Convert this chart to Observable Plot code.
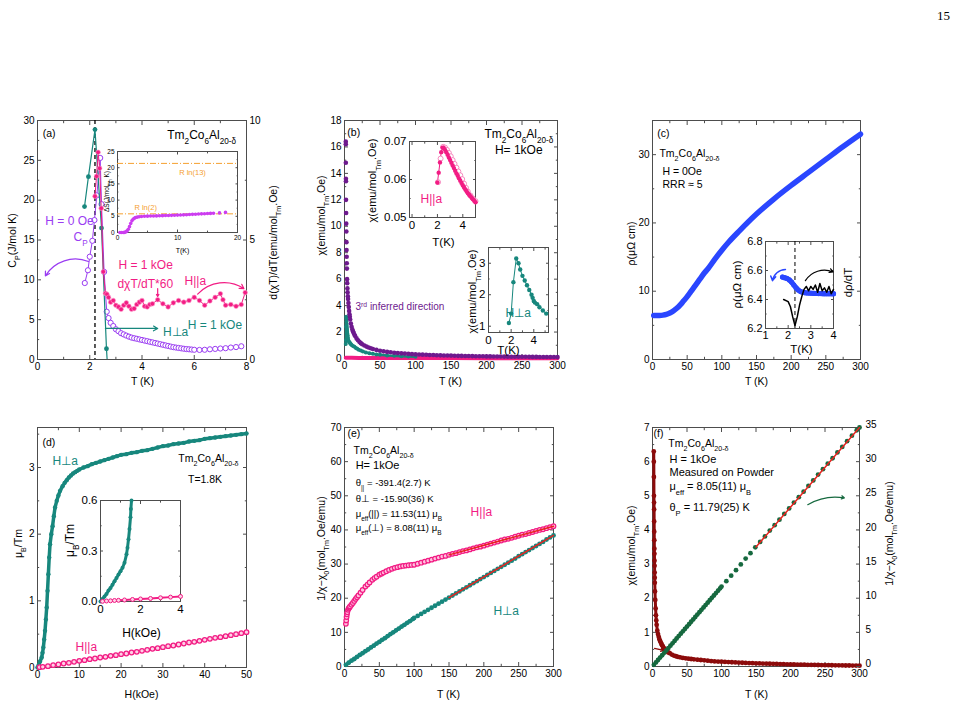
<!DOCTYPE html>
<html><head><meta charset="utf-8">
<script src="https://cdn.jsdelivr.net/npm/d3@7"></script>
<script src="https://cdn.jsdelivr.net/npm/@observablehq/plot@0.6"></script>
<style>
html,body{margin:0;padding:0;background:#fff;}
#fig{position:relative;width:963px;height:706px;overflow:hidden;background:#fff;font-family:'Liberation Sans',Arial,sans-serif;}
#pg{position:absolute;left:937px;top:8px;font:13px 'Liberation Serif','DejaVu Serif',serif;}
</style></head><body><div id="fig"><div id="pg">15</div></div>
<script>
// ---------- DATA ----------
// (a) specific heat and d(chiT)/dT
const aCpH0 = [[1.81,9.6],[1.93,11.2],[2.0,12.9],[2.1,14.9],[2.18,17.5],[2.27,20.6],[2.4,25.3],[2.45,19.5],[2.55,11.0],[2.65,6.0],[2.72,5.2],[2.8,4.6],[2.9,4.2],[3.0,3.8],[3.1,3.55],[3.2,3.3],[3.3,3.15],[3.4,3.0],[3.5,2.87],[3.6,2.75],[3.7,2.67],[3.8,2.6],[3.9,2.52],[4.0,2.45],[4.1,2.37],[4.2,2.3],[4.3,2.22],[4.4,2.15],[4.5,2.07],[4.6,2.0],[4.7,1.92],[4.8,1.85],[4.9,1.77],[5.0,1.7],[5.1,1.62],[5.2,1.55],[5.3,1.5],[5.4,1.45],[5.5,1.4],[5.6,1.35],[5.7,1.31],[5.8,1.28],[5.9,1.25],[6.0,1.22],[6.2,1.2],[6.4,1.22],[6.6,1.28],[6.8,1.33],[7.0,1.38],[7.2,1.42],[7.4,1.5],[7.6,1.56],[7.8,1.66]];
const aPerp = [[1.8,6.4],[1.95,7.65],[2.2,9.62],[2.45,5.5],[2.64,0.45],[2.75,-1.5]];
const aDchiPar = [[2.2,6.83],[2.26,7.67],[2.32,8.67],[2.38,8.0],[2.44,6.33],[2.52,3.67],[2.6,2.77],[2.66,2.73],[2.72,2.6],[2.8,2.4],[2.9,2.47],[3.0,2.27],[3.1,2.2],[3.2,2.1],[3.3,2.27],[3.4,2.37],[3.5,2.23],[3.6,2.1],[3.7,2.13],[3.8,2.3],[3.9,2.4],[4.0,2.47],[4.1,2.23],[4.2,2.2],[4.3,2.3],[4.4,2.33],[4.6,2.5],[4.8,2.33],[5.0,2.2],[5.2,2.37],[5.4,2.47],[5.6,2.4],[5.8,2.47],[6.0,2.6],[6.2,2.47],[6.4,2.27],[6.6,2.45],[6.8,2.6],[7.0,2.75],[7.1,2.5],[7.2,2.27],[7.4,2.3],[7.6,2.23],[7.8,2.3],[7.95,2.8]];
const aEntropy = [[0.4,0],[0.7,0],[1.0,0],[1.2,0.05],[1.4,0.2],[1.6,0.5],[1.8,1.0],[2.0,1.8],[2.2,2.8],[2.4,3.6],[2.6,4.1],[2.8,4.4],[3.0,4.6],[3.3,4.75],[3.6,4.85],[4.0,4.95],[4.5,5.0],[5,5.05],[5.5,5.08],[6,5.1],[6.5,5.13],[7,5.16],[7.5,5.2],[8,5.23],[8.5,5.26],[9,5.3],[9.5,5.33],[10,5.37],[10.5,5.4],[11,5.45],[11.5,5.5],[12,5.55],[12.5,5.6],[13,5.65],[13.5,5.7],[14,5.75],[14.5,5.8],[15,5.85],[15.5,5.9],[16,5.95],[17,6.05],[18,6.2]];
const aRln = [21.33, 5.76];
// (b) susceptibility
const bThird = [[1.8,16.4],[1.85,16.2],[1.9,14.8],[2.0,13.6],[2.05,13.4],[2.15,12.0],[2.3,11.0],[2.45,10.2],[2.6,9.6],[2.75,8.8],[2.9,8.2],[3.05,7.7],[3.2,7.2],[3.4,6.8],[3.6,6.0],[3.8,5.7],[4.1,5.3],[4.4,5.0],[4.7,4.7],[5.0,4.5],[5.5,4.2],[6,3.9],[6.5,3.6],[7,3.35],[7.5,3.15],[8,2.95],[9,2.65],[10,2.4],[11,2.2],[12,2.05],[13,1.92],[14,1.8],[15,1.7],[17,1.52],[19,1.38],[21,1.26],[23,1.16],[25,1.08],[28,0.98],[31,0.9],[34,0.83],[37,0.77],[40,0.72],[45,0.65],[50,0.59],[55,0.54],[60,0.5],[65,0.47],[70,0.44],[75,0.41],[80,0.39],[85,0.37],[90,0.35],[95,0.33],[100,0.31],[105,0.3],[110,0.29],[115,0.28],[120,0.27],[125,0.26],[130,0.25],[135,0.24],[140,0.23],[145,0.225],[150,0.22],[155,0.21],[160,0.2],[165,0.195],[170,0.19],[175,0.185],[180,0.18],[185,0.175],[190,0.17],[195,0.165],[200,0.16],[205,0.158],[210,0.155],[215,0.152],[220,0.15],[225,0.145],[230,0.14],[235,0.138],[240,0.135],[245,0.132],[250,0.13],[255,0.128],[260,0.125],[265,0.122],[270,0.12],[275,0.118],[280,0.115],[285,0.112],[290,0.11],[295,0.108],[300,0.105]];
const bPerpLow = [[1.8,1.1],[2.0,1.4],[2.2,2.4],[2.45,3.15],[2.65,3.0],[2.8,2.8],[3.0,2.6],[3.2,2.45],[3.4,2.3],[3.6,2.15],[3.8,2.0],[3.9,1.9],[4.0,1.8],[4.1,1.75],[4.3,1.7],[4.5,1.6],[4.8,1.5],[5.1,1.4]];
const bPerpHigh = [[6,1.3],[7,1.22],[8,1.15],[9,1.08],[10,1.03],[12,0.95],[14,0.88],[16,0.8],[18,0.73],[20,0.67],[23,0.6],[26,0.53],[30,0.46],[35,0.4],[40,0.35],[45,0.31],[50,0.28],[60,0.23],[70,0.2],[80,0.17],[90,0.15],[100,0.13]];
const bPar = [[1.8,0.06],[5,0.055],[10,0.05],[20,0.045],[50,0.04],[100,0.035],[150,0.03],[200,0.028],[250,0.026],[300,0.025]];
const bParIn = [[2.0,0.0592],[2.1,0.0618],[2.2,0.0645],[2.3,0.0672],[2.4,0.0684],[2.5,0.0683],[2.6,0.0678],[2.7,0.0672],[2.8,0.0665],[2.9,0.0658],[3.0,0.0651],[3.1,0.0644],[3.2,0.0637],[3.3,0.063],[3.4,0.0623],[3.5,0.0616],[3.6,0.061],[3.7,0.0603],[3.8,0.0597],[3.9,0.0591],[4.0,0.0585],[4.1,0.0579],[4.2,0.0574],[4.3,0.0569],[4.4,0.0564],[4.5,0.056],[4.6,0.0556],[4.7,0.0552],[4.8,0.0548],[4.9,0.0544],[5.0,0.054]];
const bParInOpen = [[2.05,0.0593],[2.25,0.0655],[2.45,0.0686],[2.6,0.0684],[2.75,0.0678],[2.9,0.067],[3.05,0.0661],[3.2,0.0651],[3.35,0.0641],[3.5,0.0631],[3.65,0.0621],[3.8,0.0611],[3.95,0.0601],[4.1,0.0589],[4.25,0.0578],[4.4,0.0568],[4.6,0.0558],[4.8,0.055],[5.0,0.0543]];
// (c) resistivity
const cRho = [[1.8,6.45],[5,6.45],[10,6.46],[15,6.5],[20,6.6],[25,6.8],[30,7.1],[35,7.5],[40,8.0],[45,8.6],[50,9.2],[55,9.9],[60,10.6],[65,11.3],[70,12.0],[75,12.7],[80,13.3],[90,14.7],[100,16.0],[110,17.2],[125,18.8],[150,21.3],[175,23.5],[200,25.5],[225,27.4],[250,29.3],[275,31.2],[300,33.0]];
const cRhoIn = [[1.75,6.555],[1.85,6.55],[1.95,6.545],[2.05,6.535],[2.15,6.52],[2.25,6.5],[2.35,6.48],[2.45,6.465],[2.55,6.455],[2.65,6.45],[2.75,6.447],[2.85,6.445],[2.95,6.444],[3.05,6.443],[3.15,6.442],[3.25,6.442],[3.35,6.441],[3.45,6.441],[3.55,6.44],[3.65,6.44],[3.75,6.44],[3.85,6.44],[3.95,6.44],[4.0,6.44]];
const cDrho = [[1.8,6.4],[2.0,6.385],[2.1,6.35],[2.2,6.28],[2.3,6.22],[2.4,6.28],[2.5,6.36],[2.6,6.42],[2.7,6.47],[2.8,6.49],[2.9,6.46],[3.0,6.49],[3.1,6.47],[3.2,6.5],[3.3,6.45],[3.4,6.51],[3.5,6.46],[3.6,6.48],[3.7,6.45],[3.8,6.49],[3.9,6.44],[4.0,6.47]];
// (d) magnetization
const dPerp = [[0,0],[0.3,0.04],[0.6,0.09],[1.0,0.15],[1.2,0.22],[1.4,0.3],[1.6,0.42],[1.8,0.55],[2.0,0.72],[2.2,0.9],[2.4,1.15],[2.6,1.4],[2.8,1.65],[3.0,1.85],[3.3,2.0],[3.6,2.12],[3.9,2.27],[4.2,2.4],[4.6,2.5],[5.0,2.58],[5.4,2.65],[6.0,2.72],[6.5,2.77],[7.0,2.81],[7.5,2.85],[8.0,2.88],[8.5,2.91],[9.0,2.93],[9.5,2.95],[10,2.97],[11,3.0],[12,3.02],[13,3.05],[14,3.07],[15,3.09],[16,3.11],[17,3.13],[18,3.15],[19,3.17],[20,3.19],[21.25,3.2],[22.5,3.22],[23.75,3.23],[25,3.25],[26.25,3.26],[27.5,3.28],[28.75,3.3],[30,3.32],[31.25,3.33],[32.5,3.35],[33.75,3.36],[35,3.37],[36.25,3.39],[37.5,3.4],[38.75,3.41],[40,3.43],[41.25,3.44],[42.5,3.45],[43.75,3.46],[45,3.47],[46.25,3.48],[47.5,3.49],[48.75,3.5],[50,3.51]];
const dPar = [[0.5,0.005],[1.25,0.01],[2.5,0.02],[3.75,0.035],[5,0.045],[6.25,0.06],[7.5,0.07],[8.75,0.085],[10,0.1],[11.25,0.11],[12.5,0.125],[13.75,0.135],[15,0.15],[16.25,0.16],[17.5,0.175],[18.75,0.185],[20,0.2],[21.25,0.21],[22.5,0.225],[23.75,0.235],[25,0.25],[26.25,0.265],[27.5,0.28],[28.75,0.29],[30,0.305],[31.25,0.32],[32.5,0.33],[33.75,0.345],[35,0.36],[36.25,0.375],[37.5,0.385],[38.75,0.4],[40,0.415],[41.25,0.43],[42.5,0.445],[43.75,0.455],[45,0.47],[46.25,0.485],[47.5,0.5],[48.75,0.515],[50,0.53]];
const dPerpIn = [[0,0],[0.1,0.015],[0.2,0.03],[0.3,0.045],[0.4,0.065],[0.5,0.08],[0.6,0.1],[0.7,0.12],[0.8,0.14],[0.9,0.16],[1.0,0.18],[1.1,0.2],[1.2,0.23],[1.3,0.28],[1.35,0.32],[1.4,0.37],[1.45,0.43],[1.5,0.5],[1.52,0.55],[1.55,0.6]];
const dParIn = [[0.1,0.001],[0.3,0.003],[0.5,0.004],[0.7,0.006],[0.9,0.007],[1.2,0.009],[1.6,0.012],[2.0,0.015],[2.5,0.018],[3.0,0.022],[3.5,0.026],[4.0,0.03]];
// (e) inverse susceptibility
const ePar = [[2,12.5],[2.5,13.5],[3,14.5],[3.5,15.3],[4,15.9],[5,16.6],[6,17.0],[7,17.3],[8,17.6],[10,18.1],[12,18.6],[14,19.2],[16,19.8],[18,20.3],[20,20.8],[23,21.6],[26,22.4],[30,23.4],[33,24.0],[36,24.6],[40,25.4],[43,25.9],[46,26.3],[50,26.9],[53,27.2],[56,27.5],[60,27.9],[64,28.3],[68,28.6],[72,28.9],[76,29.1],[80,29.3],[84,29.45],[88,29.55],[92,29.65],[96,29.75],[100,29.8],[105,30.1],[110,30.4],[115,30.7],[120,31.0],[125,31.3],[130,31.6],[135,31.9],[140,32.2],[145,32.4],[150,32.7],[155,33.0],[160,33.2],[165,33.5],[170,33.8],[175,34.0],[180,34.3],[185,34.6],[190,34.9],[195,35.1],[200,35.4],[205,35.7],[210,36.0],[215,36.3],[220,36.6],[225,36.9],[230,37.2],[235,37.4],[240,37.7],[245,38.0],[250,38.3],[255,38.6],[260,38.8],[265,39.1],[270,39.4],[275,39.7],[280,40.0],[285,40.2],[290,40.5],[295,40.8],[300,41.1]];
const ePerp = [[2,0.5],[6,1.1],[10,1.7],[14,2.2],[18,2.8],[22,3.4],[26,3.9],[30,4.5],[34,5.0],[38,5.6],[42,6.1],[46,6.7],[50,7.2],[54,7.8],[58,8.3],[62,8.9],[66,9.5],[70,10.0],[74,10.6],[78,11.1],[82,11.7],[86,12.2],[90,12.8],[94,13.3],[98,13.9],[100,14.2],[105,14.8],[110,15.4],[115,16.0],[120,16.6],[125,17.2],[130,17.8],[135,18.4],[140,19.0],[145,19.6],[150,20.2],[155,20.8],[160,21.4],[165,22.0],[170,22.6],[175,23.2],[180,23.8],[185,24.4],[190,25.0],[195,25.6],[200,26.2],[205,26.8],[210,27.4],[215,28.0],[220,28.6],[225,29.2],[230,29.8],[235,30.4],[240,31.0],[245,31.6],[250,32.3],[255,32.9],[260,33.5],[265,34.1],[270,34.7],[275,35.3],[280,35.9],[285,36.5],[290,37.2],[295,37.8],[300,38.4]];
const eFitPar = [[150,32.7],[300,41.1]];
const eFitPerp = [[150,20.2],[300,38.4]];
// (f) powder
const fChi = [[1.8,6.3],[1.9,6.0],[2.0,5.55],[2.1,5.0],[2.2,4.8],[2.3,4.6],[2.4,4.25],[2.5,3.95],[2.6,3.7],[2.7,3.45],[2.8,3.3],[2.9,3.1],[3.0,2.95],[3.1,2.75],[3.2,2.6],[3.3,2.45],[3.6,2.2],[4,1.95],[4.5,1.7],[5,1.5],[5.5,1.35],[6,1.22],[7,1.05],[8,0.95],[9,0.87],[10,0.8],[11,0.75],[12,0.7],[13,0.66],[14,0.62],[15,0.59],[17,0.53],[19,0.48],[21,0.44],[23,0.41],[25,0.39],[28,0.35],[31,0.32],[34,0.3],[37,0.28],[40,0.27],[44,0.25],[48,0.24],[52,0.23],[56,0.22],[60,0.21],[65,0.2],[70,0.19],[75,0.18],[80,0.17],[85,0.16],[90,0.15],[95,0.145],[100,0.14],[105,0.135],[110,0.13],[115,0.125],[120,0.12],[125,0.115],[130,0.11],[135,0.105],[140,0.1],[145,0.097],[150,0.094],[155,0.09],[160,0.087],[165,0.083],[170,0.08],[175,0.077],[180,0.074],[185,0.07],[190,0.067],[195,0.064],[200,0.06],[205,0.058],[210,0.056],[215,0.054],[220,0.052],[225,0.05],[230,0.048],[235,0.046],[240,0.044],[245,0.042],[250,0.04],[255,0.038],[260,0.036],[265,0.035],[270,0.033],[275,0.032],[280,0.03],[285,0.029],[290,0.027],[295,0.026],[300,0.025]];
const fInv = [[2,0.25],[5,0.6],[8,0.95],[11,1.3],[14,1.65],[17,2.0],[20,2.35],[23,2.7],[26,3.05],[29,3.4],[32,3.75],[35,4.1],[38,4.45],[41,4.8],[44,5.15],[47,5.5],[50,5.85],[53,6.2],[56,6.55],[59,6.9],[62,7.25],[65,7.6],[68,7.95],[71,8.3],[74,8.65],[77,9.0],[80,9.35],[83,9.7],[86,10.05],[89,10.4],[92,10.75],[95,11.1],[98,11.45],[100,11.7],[107,12.5],[114,13.3],[121,14.1],[128,14.95],[135,15.8],[142,16.6],[149,17.45],[156,18.25],[163,19.05],[170,19.9],[177,20.7],[184,21.5],[191,22.35],[198,23.15],[205,24.0],[212,24.8],[219,25.6],[226,26.45],[233,27.25],[240,28.1],[247,28.9],[254,29.7],[261,30.5],[268,31.35],[275,32.15],[282,33.0],[289,33.8],[296,34.6],[300,35.0]];
const fFit = [[150,17.5],[300,35.0]];
// tick values
const tT300 = [0,50,100,150,200,250,300], mT300 = [25,75,125,175,225,275];
const fRightTicks = [0,5,10,15,20,25,30,35];

// ---------- HELPERS ----------
const FONT = "'Liberation Sans', Arial, Helvetica, sans-serif";
const AX = "#4d4d4d";
const PURPLE="#9a3cf2", MAG="#cc3df0", PINK="#f21c84", TEAL="#17877d", DPURP="#6e1a8e", BLUE="#2a46ff", DRED="#8c0b0b", GREEN="#16693f", ORANGE="#f5a030", RED="#e8231f";
const fig = document.getElementById("fig");
const P = d => d[0], Q = d => d[1];

function richify(svg){
  const NS="http://www.w3.org/2000/svg";
  svg.querySelectorAll("text").forEach(t=>{
    if (t.querySelector("tspan")) return;
    const s=t.textContent;
    if(!/[_^]\{/.test(s)) return;
    t.textContent="";
    const re=/([_^])\{([^}]*)\}/g; let last=0,m;
    const add=(txt,k)=>{ if(!txt) return; const ts=document.createElementNS(NS,"tspan"); ts.textContent=txt;
      if(k){ ts.setAttribute("font-size","68%"); ts.setAttribute("baseline-shift", k==="_"?"sub":"super"); }
      t.appendChild(ts); };
    while((m=re.exec(s))){ add(s.slice(last,m.index)); add(m[2],m[1]); last=re.lastIndex; }
    add(s.slice(last));
  });
}
function chart(box, xd, yd, marks, fs=10){
  const [x0,y0,x1,y1]=box, m=70;
  const svg=Plot.plot({width:x1-x0+2*m, height:y1-y0+2*m, marginTop:m, marginRight:m, marginBottom:m, marginLeft:m,
    x:{domain:xd, axis:null}, y:{domain:yd, axis:null}, marks: marks.flat().filter(Boolean)});
  Object.assign(svg.style,{position:"absolute", left:(x0-m)+"px", top:(y0-m)+"px", overflow:"visible", background:"transparent", maxWidth:"none", fontFamily:FONT, fontSize:fs+"px", color:"#000"});
  richify(svg);
  fig.appendChild(svg);
  return svg;
}
function ax(kind, anchor, ticks, len, fmt, pad=3){
  if (!ticks || !ticks.length) return null;
  const A = kind==="x" ? Plot.axisX : Plot.axisY;
  return A({anchor, ticks, tickSize:-len, tickPadding:len+pad, tickFormat: fmt || (() => ""), label:null, stroke:AX});
}
function frameAxes({xt, yt, xm=[], ym=[], len=4, xf=d=>d, yf=d=>d, right=true}){
  const ml = len*0.55;
  return [
    Plot.frame({stroke:AX}),
    ax("x","bottom",xt,len,xf), ax("x","top",xt,len),
    ax("x","bottom",xm,ml), ax("x","top",xm,ml),
    ax("y","left",yt,len,yf), ax("y","left",ym,ml),
    right ? ax("y","right",yt,len) : null, right ? ax("y","right",ym,ml) : null
  ];
}
function lab(box, text, X, Y, o={}){
  return Plot.text([text], {frameAnchor:"top-left", dx:X-box[0], dy:Y-box[1], text:d=>d, textAnchor:"middle", lineAnchor:"middle", ...o});
}
function notes(arr){
  return arr.map(n => Plot.text([n], {x:"x", y:"y", text:"t", fill:n.c||"#000", fontSize:n.fs||10.5, textAnchor:n.a||"start", lineAnchor:"middle"}));
}
function arrows(arr){
  return arr.map(a => Plot.arrow([a], {x1:"x1", y1:"y1", x2:"x2", y2:"y2", bend:a.b||0, stroke:a.c, strokeWidth:a.w||1.2, headLength:a.h||6}));
}

// ---------- LAYOUT (frame boxes in page px) ----------
const boxA=[37,120,246,359], boxB=[344,120,557,358], boxC=[652,120,860,359];
const boxD=[37,427,246,667], boxE=[344,427,553,666], boxF=[652,427,859,666];
const boxAi=[117,151,237,232], boxBi1=[409,141,475,217], boxBi2=[488,247,548,332], boxCi=[765,241,833,328], boxDi=[100,500,180,601];
const TM = "Tm_{2}Co_{6}Al_{20-δ}";

// ---------- (a) ----------
chart(boxA, [0,8], [0,30], [
  frameAxes({xt:[0,2,4,6,8], xm:[1,3,5,7], yt:[0,5,10,15,20,25,30], ym:[2.5,7.5,12.5,17.5,22.5,27.5], right:false}),
  Plot.ruleX([2.2], {stroke:"#000", strokeWidth:1.3, strokeDasharray:"4,3"}),
  Plot.line(aCpH0, {x:P, y:Q, stroke:PURPLE, strokeWidth:1}),
  Plot.dot(aCpH0, {x:P, y:Q, r:2.6, stroke:PURPLE, fill:"white", strokeWidth:1}),
  arrows([{x1:1.95,y1:12.3,x2:0.3,y2:10.5,b:-40,c:PURPLE},
          {x1:6.13,y1:8.2,x2:7.9,y2:8.9,b:40,c:PINK},
          {x1:4.6,y1:8.9,x2:4.6,y2:7.9,c:PINK,h:3},
          {x1:2.6,y1:3.9,x2:4.6,y2:3.9,c:TEAL}]),
  notes([{x:0.2,y:28.4,t:"(a)",fs:10.5},{x:7.6,y:28.1,t:TM,fs:12,a:"end"},
         {x:0.3,y:17.4,t:"H = 0 Oe",c:PURPLE,fs:12},{x:1.38,y:15.3,t:"C_{P}",c:PURPLE,fs:12},
         {x:3.1,y:11.8,t:"H = 1 kOe",c:PINK,fs:12},{x:3.06,y:9.5,t:"dχT/dT*60",c:PINK,fs:12},{x:5.63,y:9.8,t:"H||a",c:PINK,fs:12},
         {x:4.8,y:3.4,t:"H⊥a",c:TEAL,fs:12},{x:5.75,y:4.3,t:"H = 1 kOe",c:TEAL,fs:12}]),
  lab(boxA, "C_{P}(J/mol K)", 12, 240, {rotate:-90, fontSize:10.5}),
  lab(boxA, "T (K)", 142, 381, {fontSize:10.5})
]);
chart(boxA, [0,8], [0,10], [
  ax("y","right",[0,5,10],4,d=>d), ax("y","right",[2.5,7.5],2.2),
  Plot.line(aPerp, {x:P, y:Q, stroke:TEAL, strokeWidth:1.2, clip:true}),
  Plot.dot(aPerp, {x:P, y:Q, r:2.4, fill:TEAL, clip:true}),
  Plot.line(aDchiPar, {x:P, y:Q, stroke:PINK, strokeWidth:1}),
  Plot.dot(aDchiPar, {x:P, y:Q, r:2.3, fill:PINK, stroke:"#ff9ccb", strokeWidth:0.6}),
  lab(boxA, "d(χT)/dT(emu/mol_{Tm}.Oe)", 273, 242, {rotate:-90, fontSize:10.5})
]);
chart(boxAi, [0,20], [0,25], [
  frameAxes({xt:[0,10,20], xm:[5,15], yt:[0,5,10,15,20,25], ym:[2.5,7.5,12.5,17.5,22.5], len:2.5}),
  Plot.ruleY(aRln, {stroke:ORANGE, strokeWidth:1, strokeDasharray:"6,2,1,2"}),
  Plot.dot(aEntropy, {x:P, y:Q, r:1.8, fill:MAG}),
  notes([{x:12.5,y:18.5,t:"R ln(13)",c:ORANGE,fs:7.5,a:"middle"},{x:4.7,y:7.7,t:"R ln(2)",c:ORANGE,fs:7.5,a:"middle"}]),
  lab(boxAi, "ΔS(J/mol_{Tm} K)", 106, 191, {rotate:-90, fontSize:6.5}),
  lab(boxAi, "T(K)", 182, 250, {fontSize:7})
], 6.5);

// ---------- (b) ----------
chart(boxB, [0,300], [0,18], [
  frameAxes({xt:tT300, xm:mT300, yt:[0,2,4,6,8,10,12,14,16,18], ym:[1,3,5,7,9,11,13,15,17]}),
  Plot.line(bPar, {x:P, y:Q, stroke:PINK, strokeWidth:4}),
  Plot.line(bPerpLow.concat(bPerpHigh), {x:P, y:Q, stroke:TEAL, strokeWidth:2.5}),
  Plot.dot(bPerpLow.concat(bPerpHigh), {x:P, y:Q, r:2, fill:TEAL}),
  Plot.dot(bThird, {x:P, y:Q, r:2.3, fill:DPURP}),
  notes([{x:4,y:17.1,t:"(b)",fs:10.5},{x:294,y:17.0,t:TM,fs:12,a:"end"},{x:279,y:15.75,t:"H= 1kOe",fs:12,a:"end"},
         {x:15.5,y:3.9,t:"3^{rd} inferred direction",c:DPURP,fs:10}]),
  lab(boxB, "χ(emu/mol_{Tm}.Oe)", 321, 215, {rotate:-90, fontSize:10.5}),
  lab(boxB, "T (K)", 450, 381, {fontSize:10.5})
]);
chart(boxBi1, [-0.2,5], [0.05,0.07], [
  frameAxes({xt:[0,2,4], xm:[1,3,5], yt:[0.05,0.06,0.07], ym:[0.055,0.065], len:3, yf:d3.format(".2f")}),
  Plot.line(bParIn, {x:P, y:Q, stroke:PINK, strokeWidth:1}),
  Plot.dot(bParInOpen, {x:P, y:Q, r:2.5, stroke:"#f46fb0", fill:"white", strokeWidth:0.8}),
  Plot.dot(bParIn, {x:P, y:Q, r:2.2, fill:PINK}),
  notes([{x:0.67,y:0.0547,t:"H||a",c:PINK,fs:12}]),
  lab(boxBi1, "χ(emu/mol_{Tm}.Oe)", 372, 180, {rotate:-90, fontSize:11}),
  lab(boxBi1, "T(K)", 443, 242, {fontSize:11.5})
], 11.5);
chart(boxBi2, [0,5.3], [0.8,3.5], [
  frameAxes({xt:[0,2,4], xm:[1,3,5], yt:[1,2,3], ym:[1.5,2.5], len:3}),
  Plot.line(bPerpLow, {x:P, y:Q, stroke:TEAL, strokeWidth:1}),
  Plot.dot(bPerpLow, {x:P, y:Q, r:2.2, fill:TEAL}),
  notes([{x:1.5,y:1.43,t:"H⊥a",c:TEAL,fs:12}]),
  lab(boxBi2, "χ(emu/mol_{Tm}.Oe)", 472, 291, {rotate:-90, fontSize:11}),
  lab(boxBi2, "T(K)", 508, 350, {fontSize:11.5})
], 11.5);

// ---------- (c) ----------
chart(boxC, [0,300], [0,35], [
  frameAxes({xt:tT300, xm:mT300, yt:[0,10,20,30], ym:[5,15,25,35]}),
  Plot.line(cRho, {x:P, y:Q, stroke:BLUE, strokeWidth:5.5, curve:"monotone-x", strokeLinecap:"round"}),
  notes([{x:7,y:33.1,t:"(c)",fs:10.5},{x:10,y:30.2,t:TM,fs:10.5},{x:14.4,y:27.5,t:"H = 0Oe",fs:10.5},{x:14.4,y:25.6,t:"RRR ≈ 5",fs:10.5}]),
  lab(boxC, "ρ(μΩ cm)", 631, 243, {rotate:-90, fontSize:10.5}),
  lab(boxC, "T (K)", 756, 381, {fontSize:10.5})
]);
chart(boxCi, [1,4], [6.2,6.8], [
  frameAxes({xt:[1,2,3,4], xm:[1.5,2.5,3.5], yt:[6.2,6.4,6.6,6.8], ym:[6.3,6.5,6.7], len:3, yf:d3.format(".1f")}),
  Plot.ruleX([2.3], {stroke:"#000", strokeDasharray:"4,3"}),
  Plot.line(cRhoIn, {x:P, y:Q, stroke:BLUE, strokeWidth:5}),
  Plot.dot(cRhoIn, {x:P, y:Q, r:2.6, fill:BLUE}),
  Plot.line(cDrho, {x:P, y:Q, stroke:"#000", strokeWidth:1.5}),
  arrows([{x1:1.88,y1:6.607,x2:1.31,y2:6.53,b:-40,c:BLUE,w:1.5,h:5},{x1:2.76,y1:6.53,x2:3.98,y2:6.59,b:40,c:"#000",w:1.2,h:5}]),
  lab(boxCi, "ρ(μΩ cm)", 737, 284, {rotate:-90, fontSize:11.5}),
  lab(boxCi, "dρ/dT", 848, 282, {rotate:-90, fontSize:11.5}),
  lab(boxCi, "T(K)", 801, 349, {fontSize:11.5})
], 11);

// ---------- (d) ----------
chart(boxD, [0,50], [0,3.6], [
  frameAxes({xt:[0,10,20,30,40,50], xm:[5,15,25,35,45], yt:[0,1,2,3], ym:[0.5,1.5,2.5,3.5]}),
  Plot.line(dPerp, {x:P, y:Q, stroke:TEAL, strokeWidth:3.5}),
  Plot.dot(dPerp, {x:P, y:Q, r:2.2, fill:TEAL}),
  Plot.dot(dPar, {x:P, y:Q, r:2.3, fill:"#ffd0e6", stroke:PINK, strokeWidth:1.3}),
  notes([{x:1.2,y:3.37,t:"(d)",fs:10.5},{x:3.6,y:3.1,t:"H⊥a",c:TEAL,fs:12},{x:33.7,y:3.13,t:TM,fs:10.5},{x:36,y:2.82,t:"T=1.8K",fs:10.5},{x:9.1,y:0.3,t:"H||a",c:PINK,fs:12}]),
  lab(boxD, "μ_{B}/Tm", 18, 543, {rotate:-90, fontSize:10.5}),
  lab(boxD, "H(kOe)", 141, 694, {fontSize:10.5})
]);
chart(boxDi, [0,4], [0,0.6], [
  frameAxes({xt:[0,2,4], xm:[1,3], yt:[0,0.3,0.6], ym:[0.15,0.45], len:3, yf:d3.format(".1f")}),
  Plot.line(dPerpIn, {x:P, y:Q, stroke:TEAL, strokeWidth:3}),
  Plot.dot(dPerpIn, {x:P, y:Q, r:2, fill:TEAL}),
  Plot.line(dParIn, {x:P, y:Q, stroke:PINK, strokeWidth:2}),
  Plot.dot(dParIn, {x:P, y:Q, r:2, fill:"#ffd0e6", stroke:PINK, strokeWidth:1}),
  lab(boxDi, "μ_{B}/Tm", 70, 540, {rotate:-90, fontSize:12}),
  lab(boxDi, "H(kOe)", 141, 633, {fontSize:12})
], 11.5);

// ---------- (e) ----------
chart(boxE, [0,300], [0,70], [
  frameAxes({xt:tT300, xm:mT300, yt:[0,10,20,30,40,50,60,70], ym:[5,15,25,35,45,55,65]}),
  Plot.line(ePar.filter(d=>d[0]<=100), {x:P, y:Q, stroke:PINK, strokeWidth:3.5}),
  Plot.dot(ePar, {x:P, y:Q, r:2.3, fill:"#ffc2df", stroke:PINK, strokeWidth:1.2}),
  Plot.line(ePerp.filter(d=>d[0]<=100), {x:P, y:Q, stroke:TEAL, strokeWidth:3.5}),
  Plot.dot(ePerp, {x:P, y:Q, r:2.4, fill:TEAL}),
  Plot.line(eFitPar, {x:P, y:Q, stroke:RED, strokeWidth:1.5}),
  Plot.line(eFitPerp, {x:P, y:Q, stroke:RED, strokeWidth:1.5}),
  notes([{x:4.3,y:68.2,t:"(e)",fs:10.5},{x:13,y:63.3,t:TM,fs:10.5},{x:16,y:58.9,t:"H= 1kOe",fs:11},
         {x:16,y:53.9,t:"θ_{||} = -391.4(2.7) K",fs:9.5},{x:16,y:49.2,t:"θ⊥ = -15.90(36) K",fs:9.5},
         {x:16,y:44.8,t:"μ_{eff}(||) = 11.53(11) μ_{B}",fs:9.5},{x:16,y:40.7,t:"μ_{eff}(⊥) = 8.08(11) μ_{B}",fs:9.5},
         {x:181,y:45.1,t:"H||a",c:PINK,fs:12},{x:214,y:16.1,t:"H⊥a",c:TEAL,fs:12}]),
  lab(boxE, "1/χ−χ_{0}(mol_{Tm}.Oe/emu)", 321, 548, {rotate:-90, fontSize:10.5}),
  lab(boxE, "T (K)", 448, 694, {fontSize:10.5})
]);

// ---------- (f) ----------
chart(boxF, [0,300], [0,7], [
  frameAxes({xt:tT300, xm:mT300, yt:[0,1,2,3,4,5,6,7], ym:[0.5,1.5,2.5,3.5,4.5,5.5,6.5], right:false}),
  Plot.dot(fChi, {x:P, y:Q, r:2.4, fill:DRED}),
  Plot.line(fChi.filter(d=>d[0]<=100), {x:P, y:Q, stroke:DRED, strokeWidth:3}),
  arrows([{x1:3,y1:0.53,x2:16,y2:0.47,c:DRED,h:4}]),
  notes([{x:1.5,y:6.83,t:"(f)",fs:10.5},{x:23,y:6.53,t:TM,fs:10.5},{x:24.6,y:6.05,t:"H = 1kOe",fs:11},
         {x:24.6,y:5.67,t:"Measured on Powder",fs:11},{x:24.6,y:5.27,t:"μ_{eff} = 8.05(11) μ_{B}",fs:11},{x:24.6,y:4.66,t:"θ_{P} = 11.79(25) K",fs:11}]),
  lab(boxF, "χ(emu/mol_{Tm}.Oe)", 631, 545, {rotate:-90, fontSize:10.5}),
  lab(boxF, "T (K)", 756, 694, {fontSize:10.5})
]);
chart(boxF, [0,300], [0,35], [
  ax("y","right",fRightTicks,4), ax("y","right",[2.5,7.5,12.5,17.5,22.5,27.5,32.5],2.2),
  Plot.axisY({anchor:"right", ticks:fRightTicks, tickSize:0, tickPadding:6, dy:-2.5, tickFormat:d=>d, label:null}),
  Plot.line(fInv.filter(d=>d[0]<=100), {x:P, y:Q, stroke:GREEN, strokeWidth:3}),
  Plot.dot(fInv, {x:P, y:Q, r:2.4, fill:GREEN}),
  Plot.line(fFit, {x:P, y:Q, stroke:RED, strokeWidth:1.5}),
  arrows([{x1:225,y1:23.7,x2:278,y2:24.7,b:20,c:GREEN,h:4}]),
  lab(boxF, "1/χ−χ_{0}(mol_{Tm}.Oe/emu)", 889, 533, {rotate:-90, fontSize:10.5})
]);
</script></body></html>
